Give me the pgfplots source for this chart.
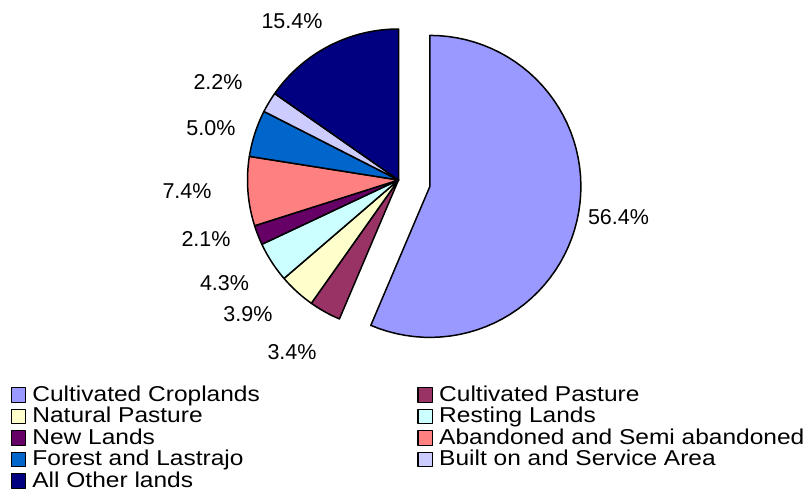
\documentclass[border=0pt]{standalone}
\usepackage{fontspec}
\setmainfont{Liberation Sans}
\newfontfamily\legfont{Liberation Sans}[FakeStretch=1.14]
\usepackage{pgfplots}
\pgfplotsset{compat=1.18}
\definecolor{c1}{HTML}{9999FF}
\definecolor{c2}{HTML}{993366}
\definecolor{c3}{HTML}{FFFFCC}
\definecolor{c4}{HTML}{CCFFFF}
\definecolor{c5}{HTML}{660066}
\definecolor{c6}{HTML}{FF8080}
\definecolor{c7}{HTML}{0066CC}
\definecolor{c8}{HTML}{CCCCFF}
\definecolor{c9}{HTML}{000080}
\begin{document}
\begin{tikzpicture}
\begin{axis}[
  x=1pt, y=1pt, xmin=0, xmax=812, ymin=0, ymax=491,
  hide axis, clip=false,
  legend columns=2,
  legend style={at={(axis cs:10.6,105.5)}, anchor=north west,
    draw=none, fill=none, inner sep=0pt, outer sep=0pt,
    row sep=0pt, column sep=0pt,
    font=\legfont\fontsize{21.5}{22}\selectfont,
    nodes={inner sep=0pt, outer sep=0pt, text height=15.5pt, text depth=6.0pt},
    /tikz/every odd column/.append style={column sep=6pt},
    /tikz/every even column/.append style={column sep=157.5pt}},
  legend cell align=left,
  legend image code/.code={\draw[#1,line width=1.3pt] (0pt,-6pt) rectangle (14.5pt,8.5pt);},
  every axis plot/.append style={draw=black, line width=1.5pt, line join=round, samples=60},
]
% slices, clockwise from 12 o'clock; values in percent
% Cultivated Croplands 56.4 (exploded)
\addplot[fill=c1, domain=3.6*0:3.6*56.4] ({429.9+151*sin(x)},{304.6+151*cos(x)}) -- (axis cs:429.9,304.6) -- cycle;
\addlegendentry{Cultivated Croplands}
% Cultivated Pasture 3.4
\addplot[fill=c2, domain=3.6*56.4:3.6*59.8] ({398.5+151*sin(x)},{311+151*cos(x)}) -- (axis cs:398.5,311) -- cycle;
\addlegendentry{Cultivated Pasture}
% Natural Pasture 3.9
\addplot[fill=c3, domain=3.6*59.8:3.6*63.7] ({398.5+151*sin(x)},{311+151*cos(x)}) -- (axis cs:398.5,311) -- cycle;
\addlegendentry{Natural Pasture}
% Resting Lands 4.3
\addplot[fill=c4, domain=3.6*63.7:3.6*68.0] ({398.5+151*sin(x)},{311+151*cos(x)}) -- (axis cs:398.5,311) -- cycle;
\addlegendentry{Resting Lands}
% New Lands 2.1
\addplot[fill=c5, domain=3.6*68.0:3.6*70.1] ({398.5+151*sin(x)},{311+151*cos(x)}) -- (axis cs:398.5,311) -- cycle;
\addlegendentry{New Lands}
% Abandoned and Semi abandoned 7.4
\addplot[fill=c6, domain=3.6*70.1:3.6*77.5] ({398.5+151*sin(x)},{311+151*cos(x)}) -- (axis cs:398.5,311) -- cycle;
\addlegendentry{Abandoned and Semi abandoned}
% Forest and Lastrajo 5.0
\addplot[fill=c7, domain=3.6*77.5:3.6*82.5] ({398.5+151*sin(x)},{311+151*cos(x)}) -- (axis cs:398.5,311) -- cycle;
\addlegendentry{Forest and Lastrajo}
% Built on and Service Area 2.2
\addplot[fill=c8, domain=3.6*82.5:3.6*84.7] ({398.5+151*sin(x)},{311+151*cos(x)}) -- (axis cs:398.5,311) -- cycle;
\addlegendentry{Built on and Service Area}
% All Other lands 15.4
\addplot[fill=c9, domain=3.6*84.7:3.6*100] ({398.5+151*sin(x)},{311+151*cos(x)}) -- (axis cs:398.5,311) -- cycle;
\addlegendentry{All Other lands}

\begin{scope}[every node/.style={inner sep=0pt, font=\fontsize{21.5}{22}\selectfont}]
\node at (axis cs:618.5,274) {56.4\%};
\node at (axis cs:292,139) {3.4\%};
\node at (axis cs:248,176.5) {3.9\%};
\node at (axis cs:224.5,207.5) {4.3\%};
\node at (axis cs:206,252) {2.1\%};
\node at (axis cs:187,300) {7.4\%};
\node at (axis cs:211,363) {5.0\%};
\node at (axis cs:218,409) {2.2\%};
\node at (axis cs:292,469.5) {15.4\%};
\end{scope}
\coordinate (bl) at (axis cs:0,0);
\coordinate (tr) at (axis cs:812,491);
\end{axis}
\pgfresetboundingbox
\path[use as bounding box] (bl) rectangle (tr);
\end{tikzpicture}
\end{document}
